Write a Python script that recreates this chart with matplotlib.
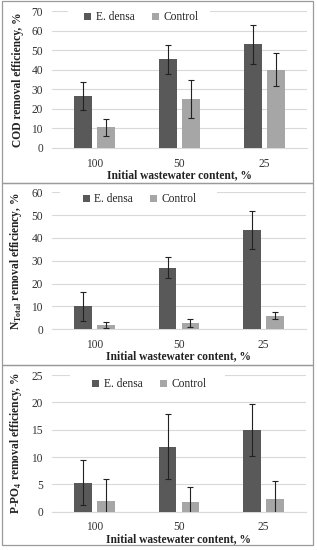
import matplotlib
matplotlib.use("Agg")
import matplotlib.pyplot as plt
import numpy as np
from matplotlib.patches import Rectangle

categories = ["100", "50", "25"]
series_names = ["E. densa", "Control"]

cod_edensa = [26.6, 45.3, 53.0]
cod_edensa_err = [7.2, 7.5, 10.0]
cod_control = [10.5, 25.0, 40.0]
cod_control_err = [4.3, 9.5, 8.3]

ntot_edensa = [10.0, 27.0, 43.5]
ntot_edensa_err = [6.4, 4.7, 8.2]
ntot_control = [2.0, 2.8, 6.0]
ntot_control_err = [1.3, 1.8, 1.7]

p_edensa = [5.3, 11.9, 14.9]
p_edensa_err = [4.1, 5.9, 4.8]
p_control = [2.0, 1.8, 2.3]
p_control_err = [4.0, 2.7, 3.4]

panels = [
    dict(ed=cod_edensa, ede=cod_edensa_err, co=cod_control, coe=cod_control_err,
         ymax=70, step=10, ylabel="COD removal efficiency, %",
         leg=(0.351, 0.953), gap=(0.063, 0.62)),
    dict(ed=ntot_edensa, ede=ntot_edensa_err, co=ntot_control, coe=ntot_control_err,
         ymax=60, step=10, ylabel=r"N$_{\mathregular{Total}}$ removal efficiency, %",
         leg=(0.346, 0.948), gap=(0.031, 0.65)),
    dict(ed=p_edensa, ede=p_edensa_err, co=p_control, coe=p_control_err,
         ymax=25, step=5, ylabel=r"P-PO$_{\mathregular{4}}$ removal efficiency, %",
         leg=(0.384, 0.932), gap=(0.071, 0.681)),
]

plt.rcParams['font.family'] = ['Liberation Serif', 'DejaVu Serif']
plt.rcParams['mathtext.fontset'] = 'custom'
plt.rcParams['mathtext.rm'] = 'Liberation Serif'
plt.rcParams['mathtext.bf'] = 'Liberation Serif:bold'
W, H = 317, 550
fig = plt.figure(figsize=(W / 100, H / 100), dpi=100)

boxes = [(1, 183), (183, 365), (365, 545)]
for top, bot in boxes:
    fig.patches.append(Rectangle((2 / W, 1 - bot / H), 311 / W, (bot - top) / H,
                                 transform=fig.transFigure, fill=False,
                                 edgecolor="#9a9a9a", linewidth=0.9))

axpos = [(52, 307, 11, 148), (52, 306, 192.3, 329.3), (52, 306, 375, 511.7)]

dark = "#595959"
light = "#a6a6a6"
x = np.arange(len(categories))
bw = 0.21
off = 0.135
fs = 8.3

for p, (l, r, t, b) in zip(panels, axpos):
    ax = fig.add_axes([l / W, 1 - b / H, (r - l) / W, (b - t) / H])
    ax.bar(x - off, p["ed"], bw, color=dark, label=series_names[0], zorder=3)
    ax.bar(x + off, p["co"], bw, color=light, label=series_names[1], zorder=3)
    ax.errorbar(x - off, p["ed"], yerr=p["ede"], fmt="none", ecolor="#222222",
                elinewidth=0.8, capsize=2, capthick=0.8, zorder=4)
    ax.errorbar(x + off, p["co"], yerr=p["coe"], fmt="none", ecolor="#222222",
                elinewidth=0.8, capsize=2, capthick=0.8, zorder=4)
    ax.set_xlim(-0.5, 2.5)
    ax.set_ylim(0, p["ymax"])
    ax.set_yticks(np.arange(0, p["ymax"] + 0.1, p["step"]))
    ax.set_xticks(x)
    ax.set_xticklabels(categories)
    ax.grid(axis="y", color="#d9d9d9", linewidth=0.8, zorder=0)
    ax.set_axisbelow(True)
    for s in ["top", "right", "left"]:
        ax.spines[s].set_visible(False)
    ax.spines["bottom"].set_color("#d9d9d9")
    ax.tick_params(axis="both", length=0, labelsize=fs, colors="#333333")
    ax.tick_params(axis="y", pad=6.5)
    ax.tick_params(axis="x", pad=7)
    ax.set_xlabel("Initial wastewater content, %", fontsize=fs, fontweight="bold",
                  color="#222222", labelpad=-0.5)
    ax.set_ylabel(p["ylabel"], fontsize=fs, fontweight="bold", color="#222222",
                  labelpad=5)
    g0, g1 = p["gap"]
    ax.add_patch(Rectangle((g0, 0.97), g1 - g0, 0.06, transform=ax.transAxes,
                           facecolor="white", edgecolor="none", zorder=2,
                           clip_on=False))
    leg = ax.legend(loc="center", bbox_to_anchor=p["leg"], ncol=2,
                    frameon=False, fontsize=fs, handlelength=0.6, handleheight=0.6,
                    handletextpad=0.4, columnspacing=1.5, borderpad=0.1)
    for txt in leg.get_texts():
        txt.set_color("#222222")

fig.savefig("out.png", dpi=100)
